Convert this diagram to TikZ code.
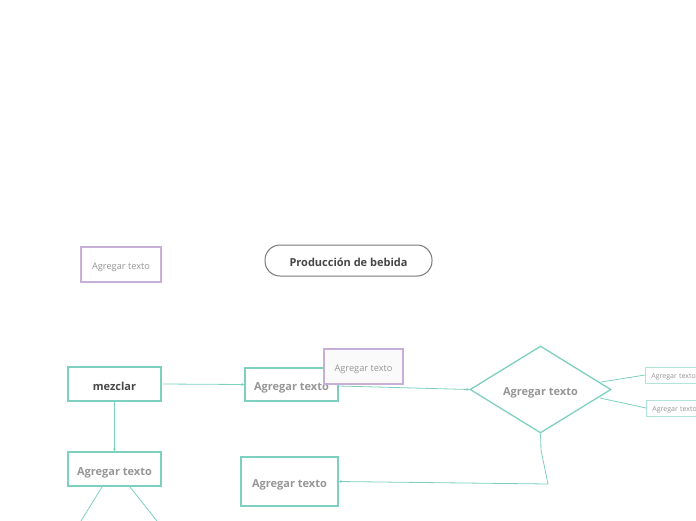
\documentclass[tikz,border=0pt]{standalone}
\usepackage{fontspec}
\setmainfont{Open Sans}
\usetikzlibrary{shapes.geometric,arrows.meta}
\definecolor{teal1}{RGB}{125,208,192}
\definecolor{purp}{RGB}{200,175,218}
\definecolor{txtgray}{RGB}{150,150,150}
\definecolor{txtdark}{RGB}{70,70,70}
\definecolor{border}{RGB}{120,120,120}
\tikzset{
  tbox/.style={draw=teal1,line width=1.3pt,fill=white,inner sep=0pt,text height=12pt,text depth=0pt,font=\bfseries\fontsize{11}{13}\selectfont,text=txtgray},
  pbox/.style={draw=purp,line width=1.2pt,fill=white,inner sep=0pt,text height=10.6pt,text depth=0pt,font=\fontsize{9.2}{11}\selectfont,text=txtgray},
  sbox/.style={draw=teal1!60,line width=0.8pt,fill=white,inner sep=0pt,anchor=west,text height=7.5pt,text depth=0pt,font=\fontsize{7}{8}\selectfont,text=txtgray},
  conn/.style={draw=teal1,line width=0.8pt},
  arr/.style={conn,-{Stealth[length=3pt,width=3pt]}}
}
\begin{document}
\begin{tikzpicture}[x=1pt,y=-1pt]
\useasboundingbox (0,0) rectangle (696,520);
% nodes
\node[pbox,minimum width=80pt,minimum height=35pt] (p1) at (121,264.5) {Agregar texto};
\node[draw=border,line width=1pt,rounded corners=15pt,minimum width=167pt,minimum height=31pt,inner sep=0pt,text height=11pt,text depth=0pt,font=\bfseries\fontsize{11}{13}\selectfont,text=txtdark] (title) at (348.5,260.5) {Producción de bebida};
\node[tbox,minimum width=93pt,minimum height=34pt,text=txtdark] (mez) at (114.5,384) {mezclar};
\node[tbox,minimum width=93pt,minimum height=33pt] (b2) at (291.5,384.5) {Agregar texto};
\node[tbox,minimum width=93pt,minimum height=34pt] (b3) at (114.5,469) {Agregar texto};
\node[tbox,minimum width=97pt,minimum height=49pt] (b4) at (289.5,481.5) {Agregar texto};
\node[pbox,minimum width=79pt,minimum height=35pt,fill=black!2] (p2) at (363.5,366.5) {Agregar texto};
\node[diamond,draw=teal1,line width=1.3pt,fill=white,minimum width=141pt,minimum height=87pt,inner sep=0pt,aspect=1.62,text height=12pt,text depth=0pt,font=\bfseries\fontsize{11}{13}\selectfont,text=txtgray] (d) at (540.5,389.5) {Agregar texto};
\node[sbox,minimum width=60pt,minimum height=16pt,text width=56pt,align=left] (s1) at (645,375) {\hspace*{4pt}Agregar texto};
\node[sbox,minimum width=60pt,minimum height=16pt,text width=56pt,align=left] (s2) at (646,408) {\hspace*{4pt}Agregar texto};
% coordinates
\coordinate (c1) at (541,450);
\coordinate (c2) at (548,484);
\coordinate (e1) at (81,521);
\coordinate (e2) at (157,521);
% connectors
\draw[arr] (163,384) -- (b2.west);
\draw[arr] (b2.east |- 0,386) -- (d.west);
\draw[conn] (601,382) -- (s1.west);
\draw[conn] (600,398) -- (s2.west);
\draw[arr] (d.south) -- (c1) -- (c2) -- (b4.east);
\draw[arr] (mez.south) -- (b3.north);
\draw[conn] (102,487) -- (e1);
\draw[conn] (130,487) -- (e2);
\end{tikzpicture}
\end{document}
